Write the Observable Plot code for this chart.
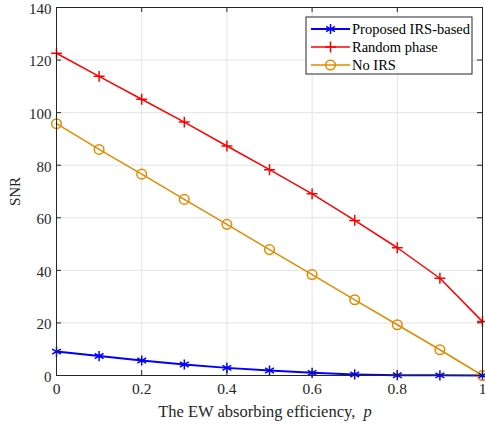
<!DOCTYPE html>
<html>
<head>
<meta charset="utf-8">
<script src="https://cdn.jsdelivr.net/npm/d3@7"></script>
<script src="https://cdn.jsdelivr.net/npm/@observablehq/plot@0.6"></script>
<style>
  html, body { margin: 0; padding: 0; background: #fff; }
  #chart { width: 485px; height: 429px; }
  #chart svg text, #chart svg g { font-family: 'Liberation Serif', 'Times New Roman', serif !important; font-variant: normal !important; }
</style>
</head>
<body>
<div id="chart"></div>
<script>
// ---- data ----
const p = [0, 0.1, 0.2, 0.3, 0.4, 0.5, 0.6, 0.7, 0.8, 0.9, 1];
const proposedIRS = [9.1, 7.4, 5.7, 4.2, 2.9, 1.9, 1.0, 0.4, 0.1, 0.05, 0];
const randomPhase = [122.6, 113.8, 105.1, 96.4, 87.3, 78.3, 69.1, 59.0, 48.6, 37.0, 20.5];
const noIRS = [95.8, 86.0, 76.6, 67.0, 57.5, 47.9, 38.4, 28.8, 19.3, 9.8, 0];
const seriesNames = ["Proposed IRS-based", "Random phase", "No IRS"];
const seriesColors = ["#0000ff", "#ff0000", "#e38a00"];
const seriesSymbols = ["asterisk", "plus", "circle"];
const xTicks = [0, 0.2, 0.4, 0.6, 0.8, 1];
const xTickLabels = ["0", "0.2", "0.4", "0.6", "0.8", "1"];
const yTicks = [0, 20, 40, 60, 80, 100, 120, 140];
const xLabel = "The EW absorbing efficiency,";
const xLabelVar = "p";
const yLabel = "SNR";

const seriesValues = [proposedIRS, randomPhase, noIRS];
const seriesR = [4.8, 3.6, 4.8];
const seriesLineW = [2, 1.5, 1.5];

const font = "Liberation Serif";
const W = 485, H = 429;
const mL = 56, mR = 3, mT = 7, mB = 54;
const plotH = H - mT - mB;
const plotW = W - mL - mR;
const tickLen = 5;

const marks = [
  Plot.gridX(xTicks, {stroke: "#e3e3e3", strokeOpacity: 1}),
  Plot.gridY(yTicks, {stroke: "#e3e3e3", strokeOpacity: 1}),
];
seriesNames.forEach((name, i) => {
  const rows = p.map((x, j) => ({x, y: seriesValues[i][j]}));
  marks.push(Plot.line(rows, {x: "x", y: "y", stroke: seriesColors[i], strokeWidth: seriesLineW[i]}));
});
seriesNames.forEach((name, i) => {
  const rows = p.map((x, j) => ({x, y: seriesValues[i][j]}));
  marks.push(Plot.dot(rows, {x: "x", y: "y", stroke: seriesColors[i], fill: "none", symbol: seriesSymbols[i], r: seriesR[i], strokeWidth: 1.5}));
});
marks.push(
  Plot.tickX(xTicks, {x: d => d, insetTop: plotH - tickLen, stroke: "#262626"}),
  Plot.tickX(xTicks, {x: d => d, insetBottom: plotH - tickLen, stroke: "#262626"}),
  Plot.tickY(yTicks, {y: d => d, insetRight: plotW - tickLen, stroke: "#262626"}),
  Plot.tickY(yTicks, {y: d => d, insetLeft: plotW - tickLen, stroke: "#262626"}),
  Plot.frame({stroke: "#262626", strokeWidth: 1}),
  Plot.axisX(xTicks, {tickSize: 0, tickPadding: 7, fontSize: 15.5, fontFamily: font, tickFormat: (d, i) => xTickLabels[i], label: null, color: "#262626"}),
  Plot.axisY(yTicks, {tickSize: 0, tickPadding: 5, dy: 1.5, fontSize: 15, fontFamily: font, label: yLabel, labelAnchor: "center", labelArrow: "none", labelOffset: 47, color: "#262626"})
);

const chart = Plot.plot({
  width: W, height: H,
  marginLeft: mL, marginRight: mR, marginTop: mT, marginBottom: mB,
  x: {domain: [0, 1]},
  y: {domain: [0, 140]},
  style: {fontFamily: font, fontSize: "15px", color: "#262626", background: "#fff"},
  marks
});
document.getElementById("chart").appendChild(chart);

const svg = d3.select(chart);
// x-axis label with italic variable
const lab = svg.append("text")
  .attr("x", mL + plotW / 2 - 4)
  .attr("y", 417)
  .attr("text-anchor", "middle")
  .attr("font-size", 16.5)
  .attr("fill", "#262626");
lab.append("tspan").text(xLabel + "\u00a0\u00a0");
lab.append("tspan").attr("font-style", "italic").text(xLabelVar);

// legend
const lg = svg.append("g").attr("font-size", 14.5).attr("text-anchor", "start");
const lx = 306, ly = 17, lw = 166, lh = 57;
lg.append("rect").attr("x", lx).attr("y", ly).attr("width", lw).attr("height", lh)
  .attr("fill", "#fff").attr("stroke", "#262626").attr("stroke-width", 1);
const symMap = {asterisk: d3.symbolAsterisk, plus: d3.symbolPlus, circle: d3.symbolCircle};
seriesNames.forEach((name, i) => {
  const cy = ly + 12 + i * 18;
  lg.append("line").attr("x1", lx + 5).attr("x2", lx + 44).attr("y1", cy).attr("y2", cy)
    .attr("stroke", seriesColors[i]).attr("stroke-width", seriesLineW[i]);
  lg.append("path")
    .attr("d", d3.symbol(symMap[seriesSymbols[i]], Math.PI * seriesR[i] * seriesR[i])())
    .attr("transform", `translate(${lx + 24.5},${cy})`)
    .attr("fill", "none").attr("stroke", seriesColors[i]).attr("stroke-width", 1.5);
  lg.append("text").attr("x", lx + 46).attr("y", cy).attr("dy", "0.35em")
    .attr("text-anchor", "start").attr("fill", "#000").text(name);
});
</script>
</body>
</html>
